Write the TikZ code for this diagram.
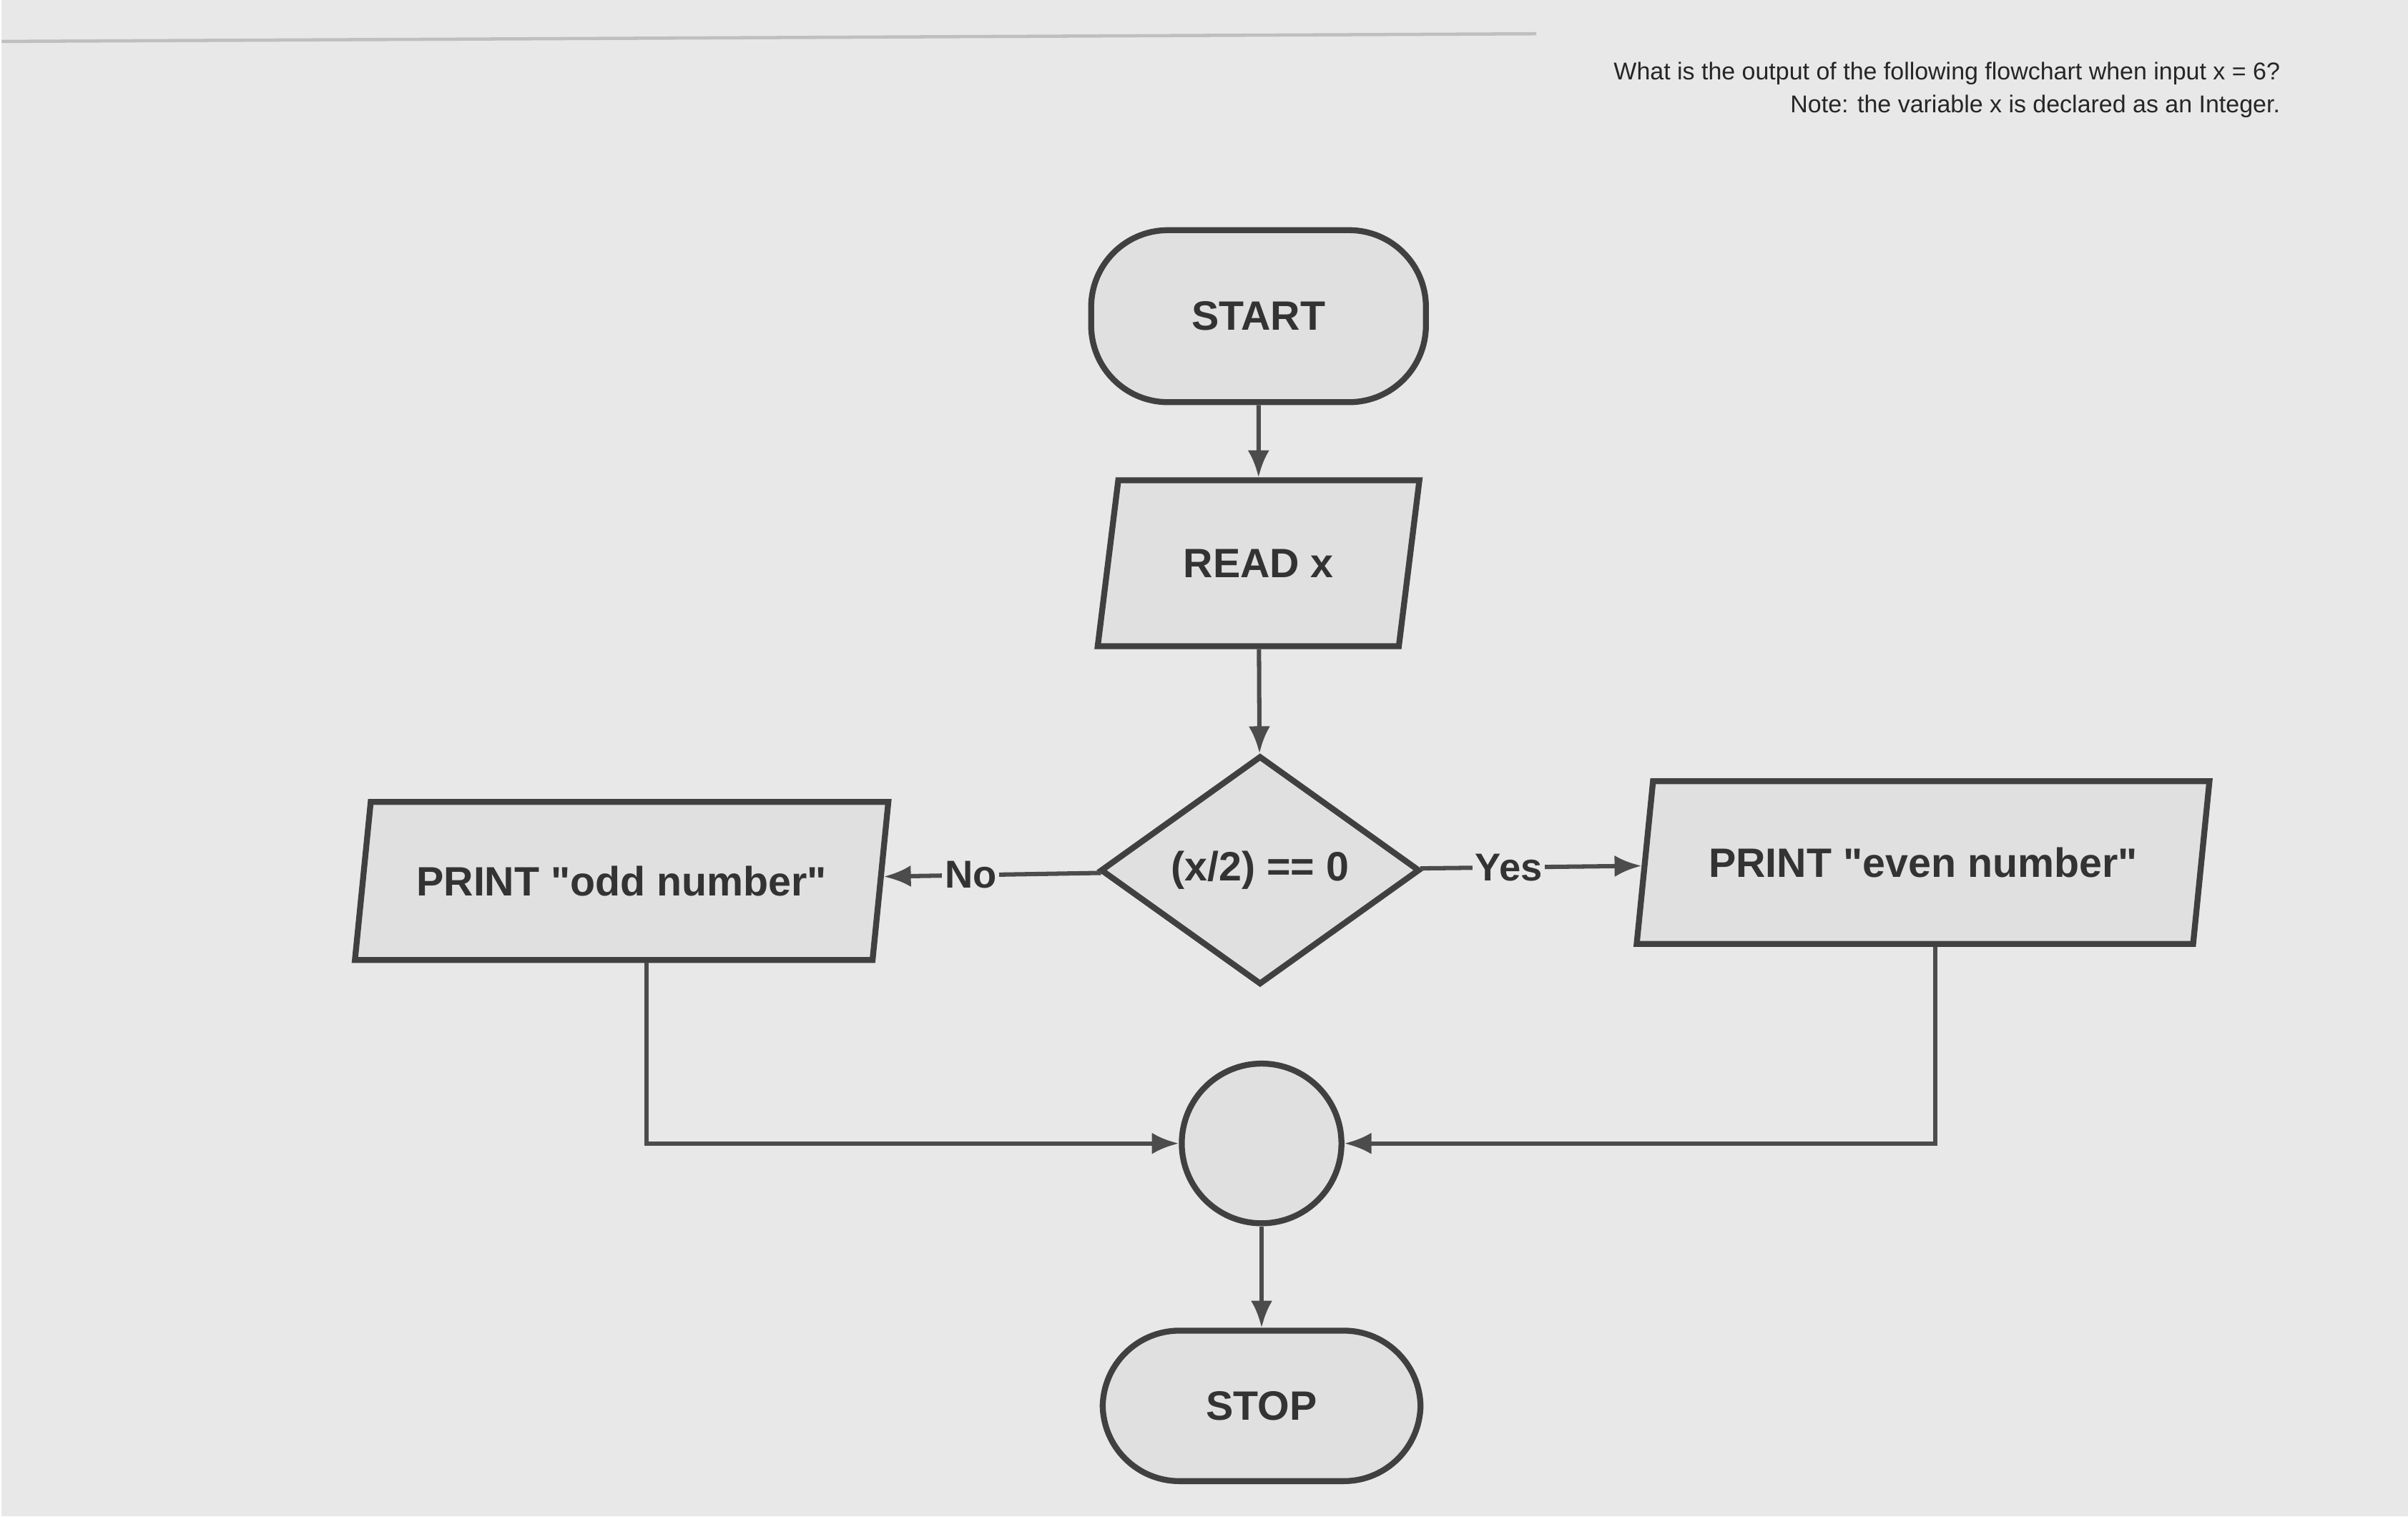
\documentclass[tikz,border=0pt]{standalone}
\usepackage{fontspec}
\setmainfont{Liberation Sans}
\usetikzlibrary{shapes.geometric,arrows.meta}
\begin{document}
\begin{tikzpicture}[x=0.01cm,y=-0.01cm,
  box/.style={draw=black!75,line width=1.1pt,fill=black!12,font=\fontsize{7.6}{9}\selectfont\bfseries,text=black!80},
  term/.style={box,rounded corners=0.5cm,minimum width=2.15cm,minimum height=1.05cm},
  io/.style={box,trapezium,trapezium left angle=78,trapezium right angle=102,trapezium stretches=true},
  arr/.style={draw=black!70,line width=0.8pt,-{Latex[length=5pt,width=4pt]}},
  lbl/.style={font=\fontsize{7.2}{9}\selectfont\bfseries,text=black!80,fill=black!9,inner sep=0.5pt}]
\fill[black!9] (0,0) rectangle (1568,988);
\draw[black!25,line width=0.6pt] (0,27) -- (1000,22);
\node[align=right,anchor=north east,font=\fontsize{4.5}{6.1}\selectfont,text=black!85] (q) at (1497,28)
 {What is the output of the following flowchart when input x = 6?\\Note: the variable x is declared as an Integer.};
\node[term,minimum width=2.18cm,minimum height=1.12cm] (start) at (819,206) {START};
\node[io,minimum width=2.1cm,minimum height=1.08cm] (read) at (819,367) {READ x};
\node[box,diamond,aspect=1.4,minimum width=2.08cm,minimum height=1.49cm,inner sep=0pt] (dec) at (820,567) {(x/2) == 0};
\node[io,minimum width=3.5cm,minimum height=1.03cm] (odd) at (404,574) {PRINT \textquotedbl odd number\textquotedbl};
\node[io,minimum width=3.75cm,minimum height=1.06cm] (even) at (1252,562) {PRINT \textquotedbl even number\textquotedbl};
\node[box,circle,minimum size=1.04cm] (join) at (821,745) {};
\node[term,minimum width=2.07cm,minimum height=0.98cm] (stop) at (821,916) {STOP};
\draw[arr] (start) -- (read);
\draw[arr] (read) -- (dec);
\draw[arr] (dec) -- node[lbl,pos=0.6]{No} (odd);
\draw[arr] (dec) -- node[lbl,pos=0.4]{Yes} (even);
\draw[arr] (odd.south -| 420,0) |- (join);
\draw[arr] (even.south -| 1260,0) |- (join);
\draw[arr] (join) -- (stop);
\end{tikzpicture}
\end{document}
